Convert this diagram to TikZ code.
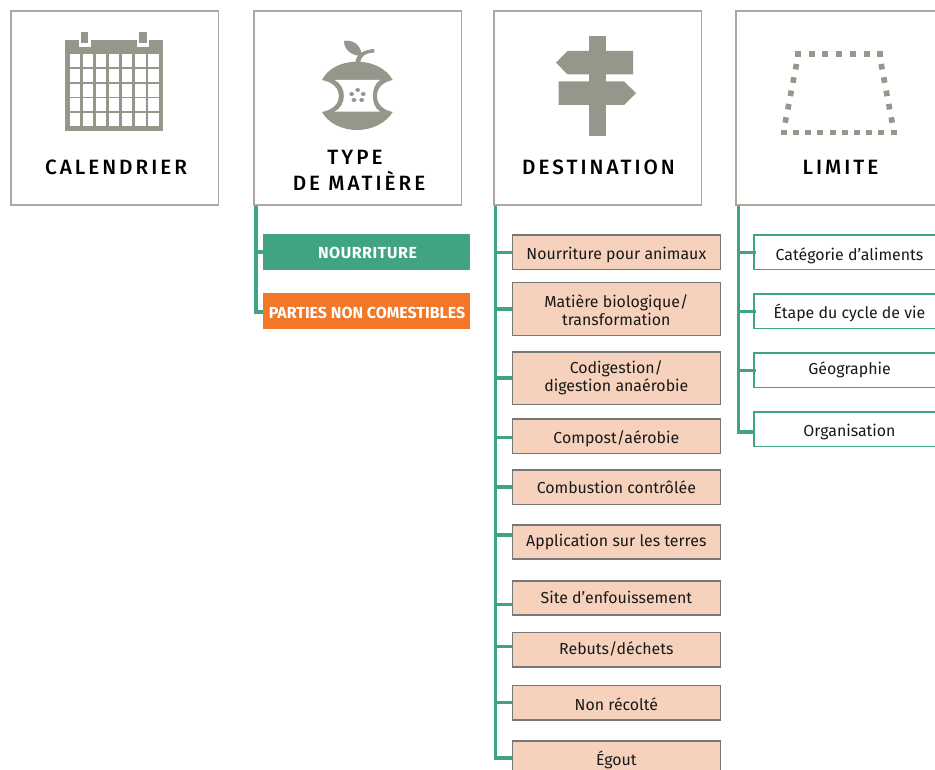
\documentclass[tikz,border=0pt]{standalone}
\usepackage{fontspec}
\setmainfont{Fira Sans}
\newfontfamily\hdfont[LetterSpace=14.5]{Fira Sans Medium}
\newfontfamily\tagfont[LetterSpace=3.5]{Fira Sans}
\newcommand{\dn}[2]{\raisebox{-#1pt}[\height][\depth]{#2}}
\definecolor{ico}{HTML}{96968B}
\definecolor{hb}{HTML}{A9A99F}
\definecolor{grn}{HTML}{3FA384}
\definecolor{org}{HTML}{F37726}
\definecolor{pch}{HTML}{F6D1BC}
\definecolor{gb}{HTML}{77777A}
\tikzset{
 x=1pt,y=-1pt,
 head/.style={draw=hb,line width=1.5pt,fill=white,minimum width=207.5pt,minimum height=194pt,anchor=north west,inner sep=0pt},
 headlab/.style={font=\fontsize{20.7}{26.5}\hdfont,align=center,text=black},
 spine/.style={draw=grn,line width=3.2pt},
 dest/.style={draw=gb,line width=1.5pt,fill=pch,minimum width=207.8pt,anchor=north west,inner sep=0pt,align=center,font=\fontsize{15.9}{18.5}\selectfont,text=black!90},
 lim/.style={draw=grn,line width=1.4pt,fill=white,minimum width=190pt,minimum height=34.6pt,anchor=north west,inner sep=0pt},
 limlab/.style={font=\fontsize{15.9}{20}\selectfont,text=black!90},
 tag/.style={minimum width=207pt,minimum height=36pt,anchor=north west,inner sep=0pt,outer sep=0pt,text=white},
}
\begin{document}
\begin{tikzpicture}
\useasboundingbox (0,0) rectangle (935,770);
\clip (0,0) rectangle (935,770);
\fill[white] (0,0) rectangle (935,770);
% headers
\node[head] (h1) at (10.25,10.25) {};
\node[head] (h2) at (253.25,10.25) {};
\node[head] (h3) at (493.25,10.25) {};
\node[head,minimum width=230pt] (h4) at (735.25,10.25) {};
\node[headlab] (t1) at (116,167) {CALENDRIER};
\node[headlab] (t2) at (359,170.5) {TYPE\hspace*{8pt}\\DE MATIÈRE};
\node[headlab] (t3) at (598.5,167) {DESTINATION};
\node[headlab] (t4) at (840.5,167) {LIMITE};
% calendar
\fill[ico] (65,40.3) rectangle (162.7,130.7);
\fill[white] (78.7,34) rectangle (90.7,46.7);
\fill[white] (137,34) rectangle (149,46.7);
\fill[ico] (81,32.3) rectangle (88.3,43.3);
\fill[ico] (139.3,32.3) rectangle (147,43.3);
\foreach \i in {0,...,6}{\foreach \j in {0,...,4}{
 \fill[white] ({69.5+\i*13.12},{54.3+\j*14.7}) rectangle ++(10.5,13);}}
% apple
\fill[ico] (322,80) .. controls (328,68) and (342,61.7) .. (357,61.7) .. controls (372,61.7) and (386,68) .. (392.7,80)
  .. controls (371.4,84) and (371.4,108) .. (392.7,112)
  .. controls (386,123) and (372,130) .. (357,130) .. controls (342,130) and (328,123) .. (322,112)
  .. controls (344.7,108) and (344.7,84) .. (322,80) -- cycle;
\fill[white] (334.8,80) -- (380,80) .. controls (370.3,86) and (370.3,106) .. (380,111.7) -- (334.5,111.7) .. controls (347,106) and (347,86) .. (334.8,80) -- cycle;
\fill[ico] (355,63) .. controls (356,56) and (361,50) .. (374,49) -- (374.5,52.5) .. controls (364,53) and (361,57) .. (360,63) -- cycle;
\fill[ico] (344,41) .. controls (352,39.5) and (361,44) .. (362,56) .. controls (352,56) and (344,50) .. (344,41) -- cycle;
\foreach \a/\b in {357.7/90,351.7/94,363.3/94,354/100,361.7/100}{\fill[ico] (\a,\b) ellipse (2.4 and 2);}
% signpost
\fill[ico] (589,36) rectangle (606,136);
\fill[ico] (556,62.5) -- (567.5,51) -- (633,51) -- (633,74.5) -- (567.5,74.5) -- cycle;
\fill[ico] (558.5,81.5) -- (624,81.5) -- (636,93) -- (624,105) -- (558.5,105) -- cycle;
% limit
\draw[ico,line width=5.5pt,dash pattern=on 6pt off 7.7pt] (795,54) -- (882.7,54);
\draw[ico,line width=5.5pt,dash pattern=on 6pt off 6.2pt] (780.8,132.7) -- (896.8,132.7);
\foreach \k in {0,...,4}{
 \fill[ico,shift={({796-\k*2.58},{66.7+\k*13.33})},rotate=-10] (-2.8,-2.8) rectangle (2.8,2.8);
 \fill[ico,shift={({881.7+\k*2.5},{66.7+\k*13.33})},rotate=10] (-2.8,-2.8) rectangle (2.8,2.8);
}
% tags
\node[tag,fill=grn,font=\fontsize{16}{18}\tagfont\bfseries] (n1) at (263,234) {\dn{1}{\hspace*{2pt}NOURRITURE}};
\node[tag,fill=org,font=\fontsize{16}{18}\selectfont\bfseries] (n2) at (263,293) {\dn{2}{\hspace*{1pt}PARTIES NON COMESTIBLES}};
% destination items
\node[dest,minimum height=34.5pt] (d1) at (511.7,234.3) {\dn{3}{Nourriture pour animaux}};
\node[dest,minimum height=52.5pt] (d2) at (511.7,282) {\dn{1}{\parbox{200pt}{\centering Matière biologique/\\transformation}}};
\node[dest,minimum height=52.5pt] (d3) at (511.7,351) {Codigestion/\\digestion anaérobie};
\node[dest,minimum height=34.5pt] (d4) at (511.7,418) {\dn{3}{Compost/aérobie}};
\node[dest,minimum height=34.5pt] (d5) at (511.7,469) {Combustion contrôlée};
\node[dest,minimum height=34pt] (d6) at (511.7,524) {Application sur les terres};
\node[dest,minimum height=34pt] (d7) at (511.7,580) {Site d’enfouissement};
\node[dest,minimum height=34.5pt] (d8) at (511.7,631.5) {\dn{-1}{Rebuts/déchets}};
\node[dest,minimum height=34.5pt] (d9) at (511.7,684.5) {\dn{2}{Non récolté}};
\node[dest,minimum height=34.5pt] (d10) at (511.7,740) {\dn{2}{Égout}};
% limit items
\node[lim] (l1) at (753.3,234.3) {};
\node[lim] (l2) at (753.3,293.3) {};
\node[lim] (l3) at (753.3,352.3) {};
\node[lim] (l4) at (753.3,411.3) {};
\node[limlab] (lt1) at (849.5,255.5) {Catégorie d’aliments};
\node[limlab] (lt2) at (849.5,312.5) {Étape du cycle de vie};
\node[limlab] (lt3) at (849.5,370) {Géographie};
\node[limlab] (lt4) at (849.5,432) {Organisation};
% connectors
\coordinate (a2) at ([xshift=2.7pt]h2.south west);
\coordinate (a3) at ([xshift=2.5pt]h3.south west);
\coordinate (a4) at ([xshift=3pt]h4.south west);
\draw[spine] (a2) |- ([yshift=-1pt]n2.west);
\draw[spine] (a2 |- n1.west) -- (n1.west);
\draw[spine] (a3) |- (d10.west);
\foreach \n/\s in {d1/0,d2/0,d3/0,d4/-1.5,d5/0,d6/6.7,d7/-7,d8/2.8,d9/0}{
 \draw[spine] ([yshift=\s pt]\n.west -| a3) -- ([yshift=\s pt]\n.west);
}
\draw[spine] (a4) |- ([yshift=-2.7pt]l4.west);
\foreach \n in {l1,l2,l3}{\draw[spine] (a4 |- \n.west) -- ([xshift=3pt]\n.west);}
\end{tikzpicture}
\end{document}
